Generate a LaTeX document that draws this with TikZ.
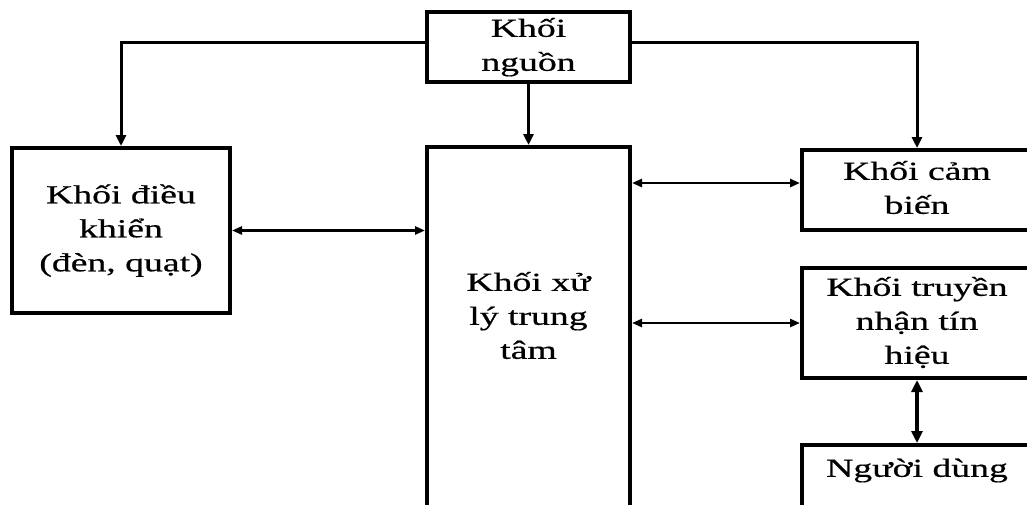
\documentclass[tikz,border=0pt]{standalone}
\usepackage{fontspec}
\usepackage{graphicx}
\setmainfont{Liberation Serif}[FakeBold=0.5]
\usetikzlibrary{arrows.meta,calc}
% stretched, centred multi-line block text
\newcommand\widetext[1]{\raisebox{-3pt}{\scalebox{1.45}[1]{\begin{tabular}{@{}c@{}}#1\end{tabular}}}}

\begin{document}
\begin{tikzpicture}[x=1pt,y=-1pt,
  box/.style={draw, line width=4pt, fill=white, inner sep=0pt,
              font=\fontsize{26}{34}\selectfont},
  lbl/.style={inner sep=0pt, font=\fontsize{26}{34}\selectfont},
  feed/.style={line width=3pt, -{Triangle[length=11pt,width=10pt]}},
  link/.style={line width=2.5pt,
               {Triangle[length=10pt,width=8pt]}-{Triangle[length=10pt,width=8pt]}},
]
\useasboundingbox (0,0) rectangle (1027,504);
\clip (0,0) rectangle (1027,504);

% power supply
\node[box, minimum width=203pt, minimum height=70pt] (src) at (528.5,47)
  {\widetext{Khối\\nguồn}};
% actuators
\node[box, minimum width=218pt, minimum height=165pt] (ctrl) at (121,230.5)
  {\widetext{Khối điều\\khiển\\(đèn, quạt)}};
% central processing unit
\node[box, minimum width=203pt, minimum height=420pt] (cpu) at (528.5,357) {};
\node[lbl] (cpuT) at (528.5,318) {\widetext{Khối xử\\lý trung\\tâm}};
% sensors
\node[box, minimum width=230pt, minimum height=80pt] (sensor) at (917,190)
  {\widetext{Khối cảm\\biến}};
% communication
\node[box, minimum width=230pt, minimum height=110pt] (comm) at (917,323)
  {\widetext{Khối truyền\\nhận tín\\hiệu}};
% user
\node[box, minimum width=230pt, minimum height=120pt] (user) at (917,505) {};
\node[lbl] (userT) at (917,470) {\widetext{Người dùng}};

% power distribution
\draw[feed] ([yshift=5pt]src.west) -| (ctrl.north);
\draw[feed] ([yshift=5pt]src.east) -| (sensor.north);
\draw[feed] (src.south) -- (cpu.north);

% data links
\draw[link] (ctrl.east) -- (cpu.west |- ctrl.east);
\coordinate (sIn) at ([yshift=7pt]sensor.west);
\draw[link] (cpu.east |- sIn) -- (sIn);
\draw[link] (cpu.east |- comm.west) -- (comm.west);
\draw[link, line width=4pt,
      {Triangle[length=12pt,width=11pt]}-{Triangle[length=12pt,width=11pt]}]
  (comm.south) -- (user.north);
\end{tikzpicture}
\end{document}
